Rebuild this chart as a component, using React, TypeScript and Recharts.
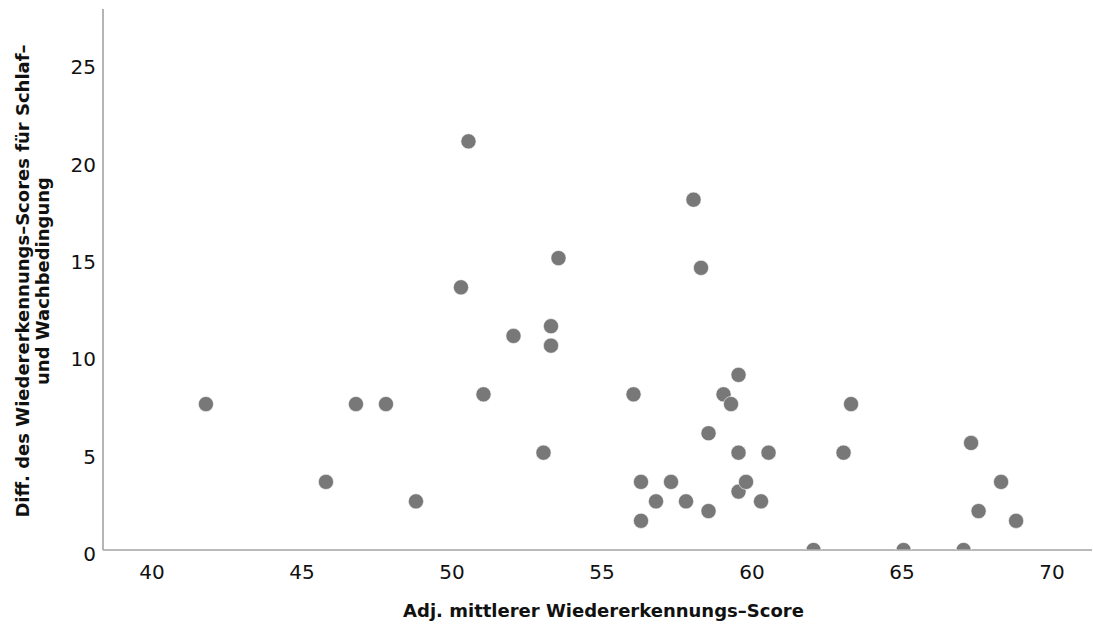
import React from 'react';
import { ScatterChart, Scatter, XAxis, YAxis, Label } from 'recharts';

// Adj. mittlerer Wiedererkennungs-Score (x) und Differenz Schlaf/Wach (y)
const scoreValues = [
  41.8, 45.8, 46.8, 47.8, 48.8, 50.3, 50.55, 51.05, 52.05, 53.05,
  53.3, 53.3, 53.55, 56.05, 56.3, 56.3, 56.8, 57.3, 57.8, 58.05,
  58.3, 58.55, 58.55, 59.05, 59.3, 59.55, 59.55, 59.55, 59.8, 60.3,
  60.55, 62.05, 63.05, 63.3, 65.05, 67.05, 67.3, 67.55, 68.3, 68.8,
];
const diffValues = [
  7.5, 3.5, 7.5, 7.5, 2.5, 13.5, 21, 8, 11, 5,
  11.5, 10.5, 15, 8, 3.5, 1.5, 2.5, 3.5, 2.5, 18,
  14.5, 6, 2, 8, 7.5, 9, 5, 3, 3.5, 2.5,
  5, 0, 5, 7.5, 0, 0, 5.5, 2, 3.5, 1.5,
];
const xTicks = [40, 45, 50, 55, 60, 65, 70];
const yTicks = [0, 5, 10, 15, 20, 25];

const points = scoreValues.map((x, i) => ({ x, y: diffValues[i] }));

const FONT = '"DejaVu Sans", sans-serif';
const AXIS_COLOR = '#a3a3a3';
const DOT_COLOR = '#787878';
const R = 7.6;

const XTick = ({ x, y, payload }: any) => (
  <text x={x} y={y + 22} textAnchor="middle" dominantBaseline="central"
    fontFamily={FONT} fontSize={20} fill="#111">
    {payload.value}
  </text>
);

const YTick = ({ x, y, payload }: any) => (
  <text x={x - 7} y={y + 4} textAnchor="end" dominantBaseline="central"
    fontFamily={FONT} fontSize={20} fill="#111">
    {payload.value}
  </text>
);

const Dot = ({ cx, cy, payload }: any) => {
  if (payload.y === 0) {
    // Punkte auf der Achse werden abgeschnitten
    return (
      <path d={`M${cx - R},${cy} A${R},${R} 0 0 1 ${cx + R},${cy} Z`}
        fill={DOT_COLOR} stroke="#fff" strokeWidth={0.6} />
    );
  }
  return <circle cx={cx} cy={cy} r={R} fill={DOT_COLOR} stroke="#fff" strokeWidth={0.6} />;
};

export default function App() {
  return (
    <div style={{ position: 'absolute', left: 0, top: 0, background: '#fff' }}>
      <ScatterChart width={1093} height={625} margin={{ top: 9, right: 1, bottom: 0, left: 0 }}>
        <XAxis
          type="number"
          dataKey="x"
          domain={[38.37, 71.33]}
          ticks={xTicks}
          allowDataOverflow
          height={75}
          tickLine={false}
          tickSize={0}
          tickMargin={0}
          axisLine={{ stroke: AXIS_COLOR, strokeWidth: 1.6 }}
          tick={<XTick />}
        >
          <Label
            content={({ viewBox }: any) => (
              <text x={viewBox.x + viewBox.width / 2 + 6} y={viewBox.y + 67}
                textAnchor="middle" fontFamily={FONT} fontSize={18} fontWeight="bold" fill="#111">
                Adj. mittlerer Wiedererkennungs–Score
              </text>
            )}
          />
        </XAxis>
        <YAxis
          type="number"
          dataKey="y"
          domain={[0, 27.8]}
          ticks={yTicks}
          allowDataOverflow
          width={103}
          tickLine={false}
          tickSize={0}
          tickMargin={0}
          axisLine={{ stroke: AXIS_COLOR, strokeWidth: 1.6 }}
          tick={<YTick />}
        >
          <Label
            content={() => (
              <g fontFamily={FONT} fontSize={18} fontWeight="bold" fill="#111">
                <text x={22} y={281} transform="rotate(-90, 22, 281)"
                  textAnchor="middle" dominantBaseline="central">
                  Diff. des Wiedererkennungs–Scores für Schlaf–
                </text>
                <text x={42} y={281} transform="rotate(-90, 42, 281)"
                  textAnchor="middle" dominantBaseline="central">
                  und Wachbedingung
                </text>
              </g>
            )}
          />
        </YAxis>
        <Scatter data={points} shape={<Dot />} isAnimationActive={false} />
      </ScatterChart>
    </div>
  );
}
